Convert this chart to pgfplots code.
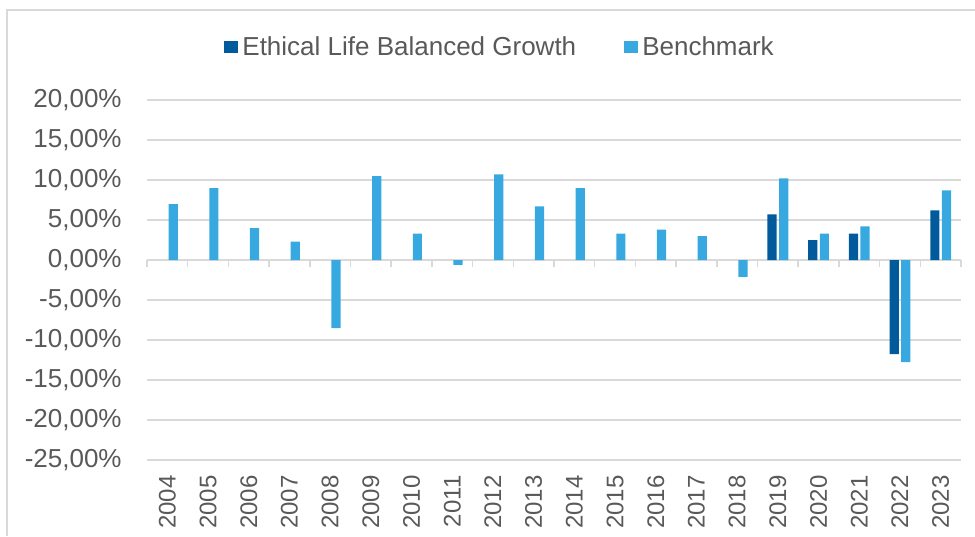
\documentclass[border=0pt]{standalone}
\usepackage{pgfplots}
\pgfplotsset{compat=1.18}
\usepackage{fontspec}
\setmainfont{Liberation Sans}
\definecolor{elbg}{RGB}{0,90,156}
\definecolor{bench}{RGB}{56,169,224}
\definecolor{gridc}{RGB}{217,217,217}
\definecolor{txt}{RGB}{89,89,89}

\pgfplotstableread{
x y
15 5.7
16 2.5
17 3.3
18 -11.75
19 6.2
}\fund

\pgfplotstableread{
x y
0 7.0
1 9.0
2 4.0
3 2.3
4 -8.5
5 10.5
6 3.3
7 -0.6
8 10.7
9 6.7
10 9.0
11 3.3
12 3.8
13 3.0
14 -2.1
15 10.2
16 3.3
17 4.2
18 -12.75
19 8.7
}\bench

\begin{document}
\begin{tikzpicture}[x=1pt,y=1pt]
\useasboundingbox (0,0) rectangle (487.5,268);
% frame (only top and left edges are inside the picture)
\draw[gridc, line width=1pt] (3.5,0) -- (3.5,263) -- (487.5,263);
\begin{axis}[
  at={(73.5pt,38pt)}, anchor=south west,
  scale only axis, width=407pt, height=180pt,
  xmin=-0.5, xmax=19.5, ymin=-25, ymax=20,
  ybar=1.2pt, bar width=4.6pt,
  axis line style={draw=none},
  major tick length=0pt,
  ymajorgrids, grid style={gridc, line width=0.75pt},
  ytick={-25,-20,...,20},
  yticklabels={{-25,00\%},{-20,00\%},{-15,00\%},{-10,00\%},{-5,00\%},{0,00\%},{5,00\%},{10,00\%},{15,00\%},{20,00\%}},
  xtick={0,...,19},
  xticklabels={2004,2005,2006,2007,2008,2009,2010,2011,2012,2013,2014,2015,2016,2017,2018,2019,2020,2021,2022,2023},
  yticklabel style={anchor=east, inner sep=0pt, xshift=-12.5pt, font=\fontsize{13pt}{15pt}\selectfont, text=txt},
  xticklabel style={yshift=-7.5pt, rotate=90, anchor=east, inner sep=0pt, font=\fontsize{12pt}{14pt}\selectfont, text=txt},
  legend style={draw=none, fill=none, at={(0.435,1.147)}, anchor=center,
    font=\fontsize{13pt}{15pt}\selectfont, text=txt,
    /tikz/every even column/.append style={column sep=22pt},
    inner sep=0pt, outer sep=0pt},
  legend columns=2,
  legend image code/.code={\fill[#1] (-1pt,-3.2pt) rectangle (6pt,3.2pt);},
  clip=false,
]
\draw[gridc, line width=0.75pt] (axis cs:-0.5,0) -- (axis cs:19.5,0);
\pgfplotsinvokeforeach{-0.5,0.5,...,19.5}{
  \draw[gridc, line width=0.75pt] (axis cs:#1,0) -- ([yshift=-3.5pt]axis cs:#1,0);
}
\addplot[fill=elbg, draw=none] table[x=x,y=y] {\fund};
\addplot[fill=bench, draw=none] table[x=x,y=y] {\bench};
\legend{Ethical Life Balanced Growth, Benchmark}
\end{axis}
\end{tikzpicture}
\end{document}
